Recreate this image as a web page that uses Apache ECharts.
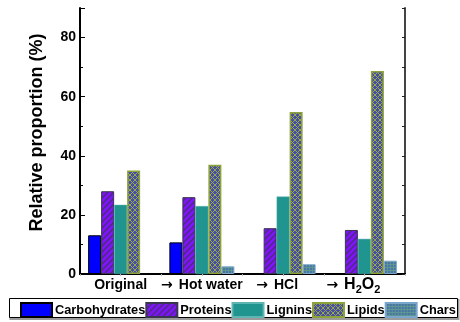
<!DOCTYPE html>
<html>
<head>
<meta charset="utf-8">
<script src="https://cdn.jsdelivr.net/npm/echarts@6/dist/echarts.min.js"></script>
<style>
  html, body { margin: 0; padding: 0; background: #fff; }
  #chart { width: 460px; height: 322px; }
</style>
</head>
<body>
<div id="chart"></div>
<script>
// Treatment steps (x categories) and composition of each fraction (%)
const categories = ['Original', 'Hot water', 'HCl', 'H2O2'];
const carbohydrates = [13.1, 10.7, 0, 0];
const proteins = [28.0, 26.0, 15.5, 14.9];
const lignins = [23.4, 23.0, 26.2, 11.9];
const lipids = [35.0, 37.0, 54.8, 68.7];
const chars = [0, 2.6, 3.3, 4.5];
const yTicks = [0, 20, 40, 60, 80];

const FONT = '"Liberation Sans", Arial, sans-serif';

// Absent fractions (0 %) leave an empty slot instead of a flat bar outline
const asBars = arr => arr.map(v => (v > 0 ? v : null));

// Small repeating tiles used as hatch fills
function tile(size, draw) {
  const c = document.createElement('canvas');
  c.width = size; c.height = size;
  draw(c.getContext('2d'), size);
  return { image: c, repeat: 'repeat' };
}
const proteinFill = tile(6, (g, s) => {
  g.fillStyle = '#7f14fa'; g.fillRect(0, 0, s, s);
  g.strokeStyle = '#4a2c78'; g.lineWidth = 1.4;
  g.beginPath();
  g.moveTo(-1, s + 1); g.lineTo(s + 1, -1);
  g.moveTo(-1, 1); g.lineTo(1, -1);
  g.moveTo(s - 1, s + 1); g.lineTo(s + 1, s - 1);
  g.stroke();
});
const lipidFill = tile(5, (g, s) => {
  g.fillStyle = '#4a4aa8'; g.fillRect(0, 0, s, s);
  g.fillStyle = '#8fb040';
  for (let i = 0; i < s; i++) {
    g.fillRect(i, i, 1, 1);
    g.fillRect(s - 1 - i, i, 1, 1);
  }
});
const charFill = tile(3, (g, s) => {
  g.fillStyle = '#4874a8'; g.fillRect(0, 0, s, s);
  g.fillStyle = '#5e9690';
  g.fillRect(0, 0, s, 1); g.fillRect(0, 0, 1, s);
});

function xLabel(value, idx) {
  if (idx === 0) return '{t|' + value + '}';
  if (value === 'H2O2') return '{ar|→}{b|H}{s|2}{b|O}{s|2}{sp2| }';
  if (value === 'HCl') return '{ar|→}{t|' + value + '}{sp1| }';
  return '{ar|→}{t|' + value + '}';
}

const chart = echarts.init(document.getElementById('chart'), null, { renderer: 'canvas' });

const barBase = { type: 'bar', barWidth: 13, barGap: '0%', barCategoryGap: '20%', xAxisIndex: 0, yAxisIndex: 0 };

chart.setOption({
  animation: false,
  textStyle: { fontFamily: FONT },
  grid: { left: 80, right: 55, top: 8, bottom: 48 },
  graphic: [
    {
      type: 'rect', z: 0,
      shape: { x: 10.5, y: 300, width: 448, height: 19 },
      style: { fill: 'none', stroke: '#9a9a9a', lineWidth: 2 }
    },
    {
      type: 'rect', z: 1,
      shape: { x: 9.5, y: 298.5, width: 448, height: 19 },
      style: { fill: '#fff', stroke: '#000', lineWidth: 1 }
    },
    {
      type: 'text', x: 37, y: 132.5, rotation: Math.PI / 2,
      style: {
        text: 'Relative proportion (%)', fontFamily: FONT, fontSize: 18, fontWeight: 'bold',
        fill: '#000', align: 'center', verticalAlign: 'middle'
      }
    }
  ],
  legend: {
    left: 20, top: 302, z: 5, width: 700,
    icon: 'rect',
    itemWidth: 31, itemHeight: 14, itemGap: 0, padding: 0,
    textStyle: { fontFamily: FONT, fontSize: 12.8, fontWeight: 'bold', color: '#000', padding: [0, 0, 0, -2] },
    data: ['Carbohydrates', 'Proteins', 'Lignins', 'Lipids', 'Chars']
  },
  xAxis: [
    {
      type: 'category', data: categories, position: 'bottom',
      axisLine: { lineStyle: { color: '#000', width: 2 } },
      axisTick: { show: false },
      axisLabel: {
        margin: 1, interval: 0, color: '#000', formatter: xLabel,
        rich: {
          t: { fontFamily: FONT, fontSize: 14, fontWeight: 'bold', color: '#000', lineHeight: 20 },
          ar: { fontFamily: '"DejaVu Sans", sans-serif', fontSize: 14, fontWeight: 'bold', color: '#000', lineHeight: 20, padding: [0, 6, 0, 0] },
          b: { fontFamily: FONT, fontSize: 16, fontWeight: 'bold', color: '#000', lineHeight: 20 },
          s: { fontFamily: FONT, fontSize: 11, fontWeight: 'bold', color: '#000', lineHeight: 20, verticalAlign: 'bottom' },
          sp1: { width: 12, lineHeight: 20 },
          sp2: { width: 22, lineHeight: 20 }
        }
      }
    },
    {
      type: 'value', position: 'top', min: 0, max: 8, interval: 1,
      axisLine: { lineStyle: { color: '#000', width: 2 } },
      axisTick: { inside: true, length: 2, lineStyle: { color: '#bbb' } },
      axisLabel: { show: false },
      splitLine: { show: false }
    }
  ],
  yAxis: [
    {
      type: 'value', min: 0, max: 90, interval: 20, position: 'left',
      axisLine: { show: true, lineStyle: { color: '#000', width: 2 } },
      axisTick: { inside: true, length: 5, lineStyle: { color: '#000' } },
      minorTick: { show: true, splitNumber: 2, length: 3, lineStyle: { color: '#000' } },
      axisLabel: {
        margin: 4, color: '#000', fontFamily: FONT, fontSize: 14, fontWeight: 'bold',
        showMaxLabel: false,
        formatter: v => (yTicks.indexOf(v) >= 0 ? String(v) : '')
      },
      splitLine: { show: false }
    },
    {
      type: 'value', min: 0, max: 90, interval: 10, position: 'right',
      axisLine: { show: true, lineStyle: { color: '#444', width: 2 } },
      axisTick: { inside: true, length: 3, lineStyle: { color: '#222' } },
      axisLabel: { show: false },
      splitLine: { show: false }
    }
  ],
  series: [
    Object.assign({}, barBase, {
      name: 'Carbohydrates', data: asBars(carbohydrates),
      itemStyle: { color: '#0000ff', borderColor: '#000', borderWidth: 1 }
    }),
    Object.assign({}, barBase, {
      name: 'Proteins', data: asBars(proteins),
      itemStyle: { color: proteinFill, borderColor: '#3a3550', borderWidth: 1 }
    }),
    Object.assign({}, barBase, {
      name: 'Lignins', data: asBars(lignins),
      itemStyle: { color: '#20948f', borderColor: '#5fb5b2', borderWidth: 0.5 }
    }),
    Object.assign({}, barBase, {
      name: 'Lipids', data: asBars(lipids),
      itemStyle: { color: lipidFill, borderColor: '#8ca23a', borderWidth: 1.5 }
    }),
    Object.assign({}, barBase, {
      name: 'Chars', data: asBars(chars),
      itemStyle: { color: charFill, borderColor: '#7aa6cc', borderWidth: 1 }
    })
  ]
});
</script>
</body>
</html>
